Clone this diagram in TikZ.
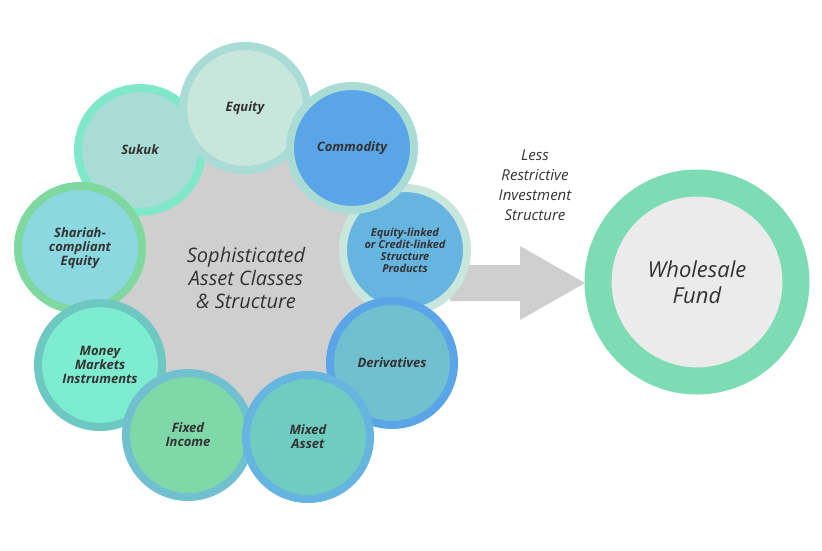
\documentclass[tikz,border=0pt]{standalone}
\usepackage{fontspec}
\setmainfont{Open Sans}
\definecolor{txt}{HTML}{333333}
\begin{document}
\begin{tikzpicture}[x=1pt,y=-1pt,
  ball/.style={circle,minimum size=124pt,line width=8pt,inner sep=0pt,align=center,
    font=\itshape\bfseries\fontsize{13}{14}\selectfont,text=txt}]
\useasboundingbox (0,0) rectangle (822,550);
\node[circle,fill=black!19,minimum size=330pt] (core) at (240,285) {};
% arrow towards the fund
\fill[black!19] (450,265) -- (520,265) -- (520,246) -- (585,283) -- (520,320) -- (520,301) -- (450,301) -- cycle;
\node[ball,fill={rgb,255:red,168;green,220;blue,212},draw={rgb,255:red,126;green,232;blue,200}] (sukuk) at (140,150) {Sukuk};
\node[ball,fill={rgb,255:red,200;green,230;blue,220},draw={rgb,255:red,168;green,220;blue,212}] (equity) at (245,108) {Equity};
\node[ball,fill={rgb,255:red,102;green,180;blue,224},draw={rgb,255:red,200;green,230;blue,220},font=\itshape\bfseries\fontsize{11}{12}\selectfont] (eql) at (405,250) {Equity-linked\\or Credit-linked\\Structure\\Products};
\node[ball,fill={rgb,255:red,90;green,164;blue,232},draw={rgb,255:red,168;green,220;blue,212}] (comm) at (352,148) {Commodity};
\node[ball,fill={rgb,255:red,140;green,216;blue,224},draw={rgb,255:red,126;green,216;blue,160}] (shar) at (80,248) {Shariah-\\compliant\\Equity};
\node[ball,fill={rgb,255:red,126;green,236;blue,208},draw={rgb,255:red,108;green,200;blue,192}] (money) at (100,365) {Money\\Markets\\Instruments};
\node[ball,fill={rgb,255:red,112;green,192;blue,208},draw={rgb,255:red,90;green,164;blue,232}] (deriv) at (392,363) {Derivatives};
\node[ball,fill={rgb,255:red,126;green,216;blue,168},draw={rgb,255:red,112;green,192;blue,208}] (fixed) at (188,435) {Fixed\\Income};
\node[ball,fill={rgb,255:red,112;green,204;blue,192},draw={rgb,255:red,102;green,180;blue,224}] (mixed) at (308,437) {Mixed\\Asset};
\node[align=center,text=txt,font=\itshape\fontsize{20}{23}\selectfont] (lbl) at (246,278) {Sophisticated\\Asset Classes\\\& Structure};
\node[align=center,text=txt,font=\itshape\fontsize{15}{20}\selectfont] (less) at (535,185) {Less\\Restrictive\\Investment\\Structure};
\node[circle,minimum size=198pt,line width=27pt,draw={rgb,255:red,125;green,220;blue,180},
  fill={rgb,255:red,235;green,235;blue,235},align=center,text=txt,
  font=\itshape\fontsize{22}{26}\selectfont] (whole) at (697,282) {Wholesale\\Fund};
\end{tikzpicture}
\end{document}
